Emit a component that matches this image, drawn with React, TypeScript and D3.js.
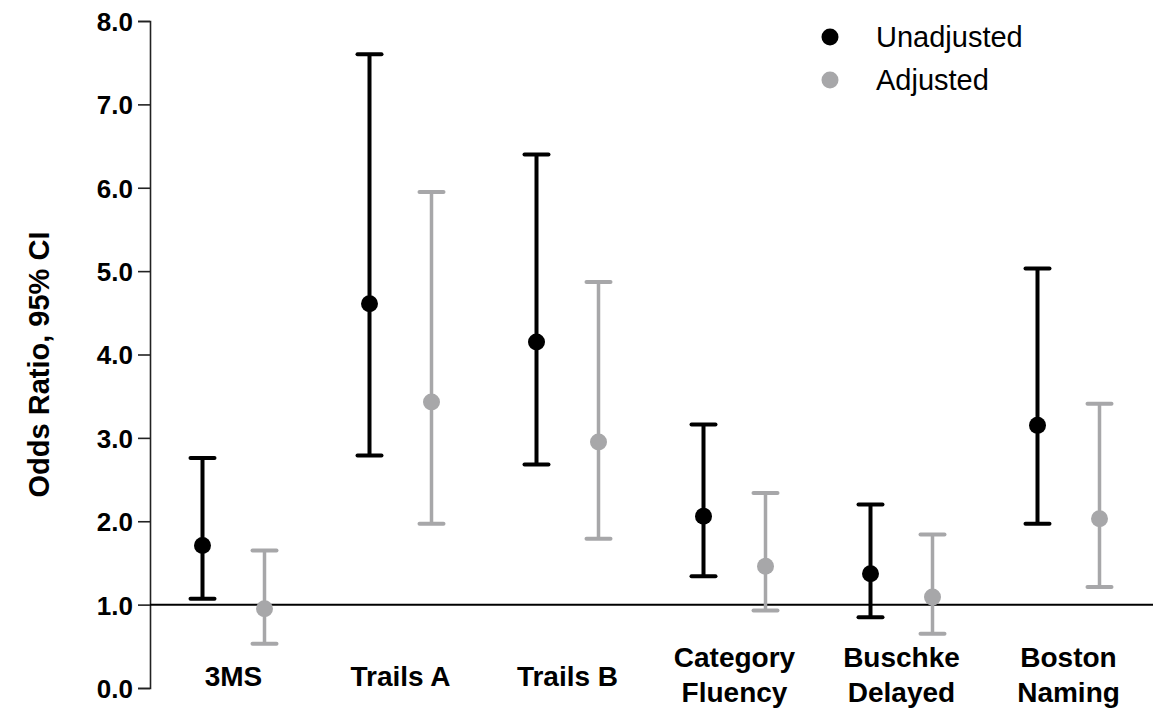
import React, { useEffect, useRef } from "react";
import * as d3 from "d3";

// categories (line breaks for two-line labels)
const categories = ["3MS", "Trails A", "Trails B", "Category\nFluency", "Buschke\nDelayed", "Boston\nNaming"];
const seriesNames = ["Unadjusted", "Adjusted"];
const seriesColors = ["#000000", "#a7a7a9"];

// odds ratios with 95% CI
const unadjOR = [1.71, 4.61, 4.15, 2.06, 1.37, 3.15];
const unadjLow = [1.07, 2.79, 2.68, 1.34, 0.85, 1.97];
const unadjHigh = [2.76, 7.60, 6.40, 3.16, 2.20, 5.03];

const adjOR = [0.95, 3.43, 2.95, 1.46, 1.09, 2.03];
const adjLow = [0.53, 1.97, 1.79, 0.93, 0.65, 1.21];
const adjHigh = [1.65, 5.95, 4.87, 2.34, 1.84, 3.41];

const yTicks = [0, 1, 2, 3, 4, 5, 6, 7, 8];

export default function App({
  width = 1153,
  height = 713,
  marginTop = 21,
  marginRight = 1,
  marginBottom = 25,
  marginLeft = 150
}) {
  const svgRef = useRef(null);

  useEffect(() => {
    const svg = d3.select(svgRef.current);
    svg.selectAll("*").remove();

    const font = "'Liberation Sans', Arial, sans-serif";

    const xScale = d3.scaleBand().domain(categories).range([marginLeft, width - marginRight]);
    const xInner = d3.scaleBand().domain(seriesNames).range([-62, 62]);
    const yScale = d3.scaleLinear().domain([0, 8]).range([height - marginBottom, marginTop]);

    const series = [
      { name: seriesNames[0], or: unadjOR, lo: unadjLow, hi: unadjHigh, color: seriesColors[0], sw: 4 },
      { name: seriesNames[1], or: adjOR, lo: adjLow, hi: adjHigh, color: seriesColors[1], sw: 3.5 }
    ];

    // y axis
    const yAxis = svg.append("g")
      .attr("transform", `translate(${marginLeft}, 0)`)
      .call(d3.axisLeft(yScale).tickValues(yTicks).tickSize(12).tickPadding(5).tickFormat(d3.format(".1f")));
    yAxis.select(".domain").attr("stroke", "#222").attr("stroke-width", 1.6);
    yAxis.selectAll(".tick line").attr("stroke", "#222").attr("stroke-width", 1.6);
    yAxis.selectAll(".tick text")
      .attr("font-family", font)
      .attr("font-weight", "bold")
      .attr("font-size", 26)
      .attr("fill", "#000")
      .attr("dy", "0.36em");

    // reference line at OR = 1
    svg.append("line")
      .attr("x1", marginLeft)
      .attr("x2", width)
      .attr("y1", yScale(1))
      .attr("y2", yScale(1))
      .attr("stroke", "#000")
      .attr("stroke-width", 2);

    // y axis title
    svg.append("text")
      .attr("transform", `translate(49, ${(yScale(0) + yScale(8)) / 2 + 10}) rotate(-90)`)
      .attr("text-anchor", "middle")
      .attr("font-family", font)
      .attr("font-weight", "bold")
      .attr("font-size", 29)
      .text("Odds Ratio, 95% CI");

    // error bars and points
    series.forEach(s => {
      const g = svg.append("g");
      const cx = (i) => xScale(categories[i]) + xScale.bandwidth() / 2 + xInner(s.name) + xInner.bandwidth() / 2;
      const idx = d3.range(categories.length);

      g.selectAll("line.bar").data(idx).enter().append("line")
        .attr("x1", cx).attr("x2", cx)
        .attr("y1", i => yScale(s.lo[i]))
        .attr("y2", i => yScale(s.hi[i]))
        .attr("stroke", s.color)
        .attr("stroke-width", s.sw);

      ["lo", "hi"].forEach(k => {
        g.selectAll(`line.cap-${k}`).data(idx).enter().append("line")
          .attr("x1", i => cx(i) - 12).attr("x2", i => cx(i) + 12)
          .attr("y1", i => yScale(s[k][i]))
          .attr("y2", i => yScale(s[k][i]))
          .attr("stroke", s.color)
          .attr("stroke-width", 4)
          .attr("stroke-linecap", "round");
      });

      g.selectAll("circle").data(idx).enter().append("circle")
        .attr("cx", cx)
        .attr("cy", i => yScale(s.or[i]))
        .attr("r", 8.5)
        .attr("fill", s.color);
    });

    // category labels
    categories.forEach(c => {
      const lines = c.split("\n");
      const t = svg.append("text")
        .attr("text-anchor", "middle")
        .attr("font-family", font)
        .attr("font-weight", "bold")
        .attr("font-size", 28)
        .attr("fill", "#000");
      const cxc = xScale(c) + xScale.bandwidth() / 2;
      if (lines.length === 1) {
        t.append("tspan").attr("x", cxc).attr("y", 686).text(lines[0]);
      } else {
        lines.forEach((l, j) => {
          t.append("tspan").attr("x", cxc).attr("y", 667 + j * 35).text(l);
        });
      }
    });

    // legend
    series.forEach((s, j) => {
      const ly = 37 + j * 43;
      svg.append("circle")
        .attr("cx", 830)
        .attr("cy", ly)
        .attr("r", 8.5)
        .attr("fill", s.color);
      svg.append("text")
        .attr("x", 876)
        .attr("y", ly)
        .attr("dy", "0.36em")
        .attr("font-family", font)
        .attr("font-size", 29)
        .attr("fill", "#000")
        .text(s.name);
    });
  }, [width, height, marginTop, marginRight, marginBottom, marginLeft]);

  return (
    <svg
      ref={svgRef}
      width={width}
      height={height}
      style={{ position: "absolute", left: 0, top: 0, background: "#fff" }}
    />
  );
}
